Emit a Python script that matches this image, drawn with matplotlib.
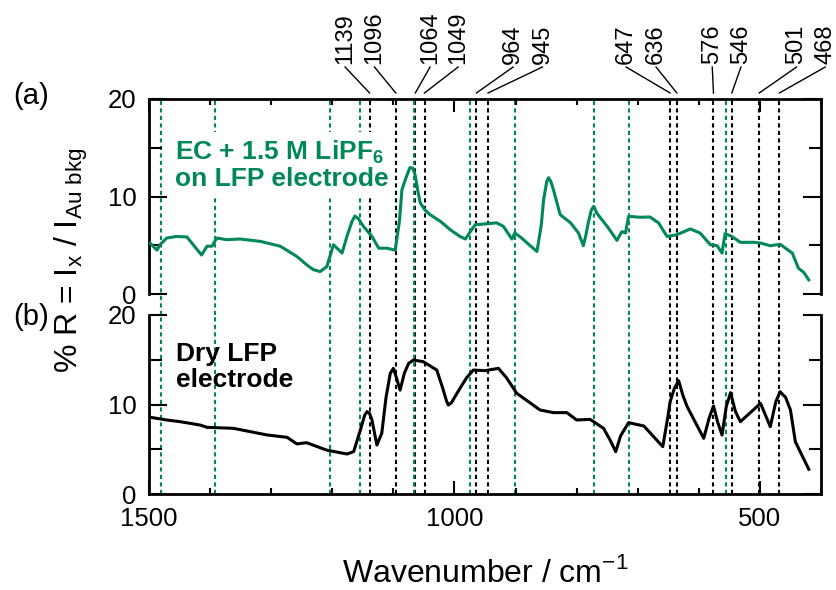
import matplotlib
matplotlib.use('Agg')
import matplotlib.pyplot as plt
from matplotlib.ticker import MultipleLocator

plt.rcParams['font.family'] = ['Liberation Sans', 'DejaVu Sans']
plt.rcParams['mathtext.fontset'] = 'custom'
plt.rcParams['mathtext.rm'] = 'Liberation Sans'
plt.rcParams['mathtext.bf'] = 'Liberation Sans:bold'

# (a) EC + 1.5 M LiPF6 on LFP electrode
wn_ec = [1498, 1487, 1482, 1471, 1455, 1438, 1414, 1405, 1397, 1389, 1373, 1351,
         1318, 1285, 1258, 1240, 1231, 1220, 1209, 1198, 1184, 1176, 1168, 1163, 1157, 1149, 1135,
         1124, 1111, 1097, 1090, 1086, 1080, 1073, 1068, 1064, 1060, 1056, 1048, 1040, 1023, 1007, 991, 982,
         974, 966, 947, 931, 920, 906, 901, 890, 881, 865, 858, 854, 849, 846, 842, 838, 827,
         810, 797, 789, 785, 781, 776, 772, 767, 761, 750, 734, 726, 720, 715, 696, 680, 666,
         652, 636, 614, 598, 581, 570, 562, 557, 546, 532, 510, 499, 483, 467,
         447, 437, 428, 420]
r_ec = [5.2, 4.5, 5.05, 5.74, 5.9, 5.85, 4.0, 4.9, 4.9, 5.74, 5.57, 5.64,
        5.4, 4.9, 3.85, 2.9, 2.5, 2.3, 2.8, 5.05, 4.2, 5.9, 7.4, 8.0, 7.7, 6.94, 5.9,
        4.7, 4.7, 4.5, 7.5, 10.7, 11.8, 12.96, 12.9, 12.1, 10.6, 9.35, 8.6, 8.14, 7.45, 6.6, 5.9, 5.64,
        6.4, 7.1, 7.2, 7.3, 6.94, 5.64, 6.26, 5.74, 5.23, 4.36, 7.0, 9.7, 11.5, 11.93, 11.5, 10.7, 8.14,
        7.3, 6.26, 4.95, 6.0, 7.3, 8.6, 9.0, 8.3, 7.8, 6.94, 5.5, 6.4, 6.26, 7.97, 7.87, 7.9, 7.3,
        5.9, 6.08, 6.67, 6.26, 5.05, 4.95, 4.2, 6.2, 5.9, 5.3, 5.3, 5.23, 4.95, 5.1,
        4.2, 2.65, 2.2, 1.45]

# (b) dry LFP electrode
wn_dry = [1498, 1471, 1449, 1416, 1405, 1362, 1307, 1274, 1258, 1242, 1209, 1176,
          1165, 1154, 1147, 1143, 1139, 1135, 1127, 1119, 1112, 1105, 1100, 1095, 1089, 1082, 1075,
          1067, 1051, 1029, 1020, 1013, 1010, 1005, 998, 991, 980, 969, 950, 928, 915, 898,
          860, 838, 816, 800, 778, 756, 745, 736, 728, 715, 690, 659, 651, 647, 640, 633, 626, 619,
          592, 583, 576, 569, 562, 555, 548, 540, 532, 499, 483, 474, 467, 458, 450,
          442, 420]
r_dry = [8.57, 8.27, 8.08, 7.7, 7.45, 7.34, 6.6, 6.33, 5.6, 5.73, 4.9, 4.47,
         4.73, 7.15, 8.8, 9.2, 9.0, 8.27, 5.47, 6.78, 10.8, 13.49, 14.04, 13.0, 11.6, 13.5, 14.6,
         14.97, 14.78, 13.85, 12.0, 10.4, 9.94, 10.2, 11.0, 11.8, 13.0, 13.85, 13.78, 14.04, 13.0, 11.25,
         9.39, 9.09, 9.09, 8.27, 8.34, 7.34, 6.0, 4.73, 6.5, 7.97, 7.6, 5.29, 8.5, 10.3, 11.8, 12.66, 11.0, 9.75,
         6.22, 8.5, 9.83, 8.0, 6.59, 9.8, 11.32, 9.2, 8.08, 10.13, 7.52, 10.3, 11.43, 10.8, 9.39,
         5.84, 2.76]

# marked bands
peaks = [1139, 1096, 1064, 1049, 964, 945, 647, 636, 576, 546, 501, 468]
green_lines = [1481, 1392, 1204, 1154, 1067, 974, 901, 771, 714, 555]

# where the rotated band labels sit (wavenumber units)
label_pos = [1179, 1131, 1040, 994, 904, 856, 719, 670, 578, 531, 440, 393]

green = '#00875a'
dots = (0, (2, 1.6))

fig = plt.figure(figsize=(8.37, 5.9), dpi=100)
ax_a = fig.add_axes([149/837, 1-294/590, 672/837, 195/590])
ax_b = fig.add_axes([149/837, 1-494/590, 672/837, 179/590])

for ax in (ax_a, ax_b):
    ax.set_xlim(1500, 400)
    ax.set_ylim(0, 20)
    ax.xaxis.set_major_locator(MultipleLocator(500))
    ax.xaxis.set_minor_locator(MultipleLocator(100))
    ax.yaxis.set_major_locator(MultipleLocator(10))
    ax.yaxis.set_minor_locator(MultipleLocator(5))
    ax.tick_params(which='both', direction='in', width=1.5, left=True, right=True,
                   labelsize=18.5, pad=9)
    ax.tick_params(axis='y', which='major', length=13)
    ax.tick_params(axis='y', which='minor', length=9)
    ax.tick_params(axis='x', which='major', length=9.5)
    ax.tick_params(axis='x', which='minor', length=4.5)
    for s in ax.spines.values():
        s.set_linewidth(2)
    ax.patch.set_visible(False)

ax_a.spines['bottom'].set_visible(False)
ax_a.tick_params(axis='x', which='both', top=True, bottom=False, labelbottom=False)
ax_b.spines['top'].set_visible(False)
ax_b.tick_params(axis='x', which='both', top=False, bottom=True)

# dotted band markers, running through both panels
for w in peaks:
    ax_a.axvline(w, ymin=-0.11, ymax=1, color='k', ls=dots, lw=1.5, zorder=1, clip_on=False)
    ax_b.axvline(w, color='k', ls=dots, lw=1.5, zorder=1)
for w in green_lines:
    ax_a.axvline(w, ymin=-0.11, ymax=1, color=green, ls=dots, lw=1.5, zorder=1, clip_on=False)
    ax_b.axvline(w, color=green, ls=dots, lw=1.5, zorder=1)

ax_a.plot(wn_ec, r_ec, color=green, lw=2.2, zorder=4, solid_joinstyle='round')
ax_b.plot(wn_dry, r_dry, color='k', lw=2.2, zorder=4, solid_joinstyle='round')

ax_a.text(1457, 15.9, 'EC + 1.5 M LiPF$_\\mathbf{6}$\non LFP electrode', color=green,
          fontsize=19, fontweight='bold', ha='left', va='top', linespacing=1.05,
          bbox=dict(facecolor='white', edgecolor='none', pad=4), zorder=3)
ax_b.text(1456, 17.0, 'Dry LFP\nelectrode', color='k', fontsize=19,
          fontweight='bold', ha='left', va='top', linespacing=1.1, zorder=3)

# band labels with leader lines above panel (a)
tr = ax_a.get_xaxis_transform()
for w, p in zip(peaks, label_pos):
    ax_a.plot([w, p], [1.031, 1.164], transform=tr, color='k', lw=1, clip_on=False)
    ax_a.text(p, 1.18, str(w), transform=tr, rotation=90, ha='center', va='bottom',
              fontsize=17)

fig.text(31/837, 1-96/590, '(a)', ha='center', va='center', fontsize=21)
fig.text(31/837, 1-317/590, '(b)', ha='center', va='center', fontsize=21)
fig.text(71/837, 1-260/590, r'% R = I$_\mathrm{x}$ / I$_\mathrm{Au\ bkg}$',
         rotation=90, ha='center', va='center', fontsize=23)
fig.text(485/837, 1-582/590, r'Wavenumber / cm$^\mathrm{-1}$', ha='center',
         va='baseline', fontsize=23)

fig.savefig('out.png', dpi=100)
